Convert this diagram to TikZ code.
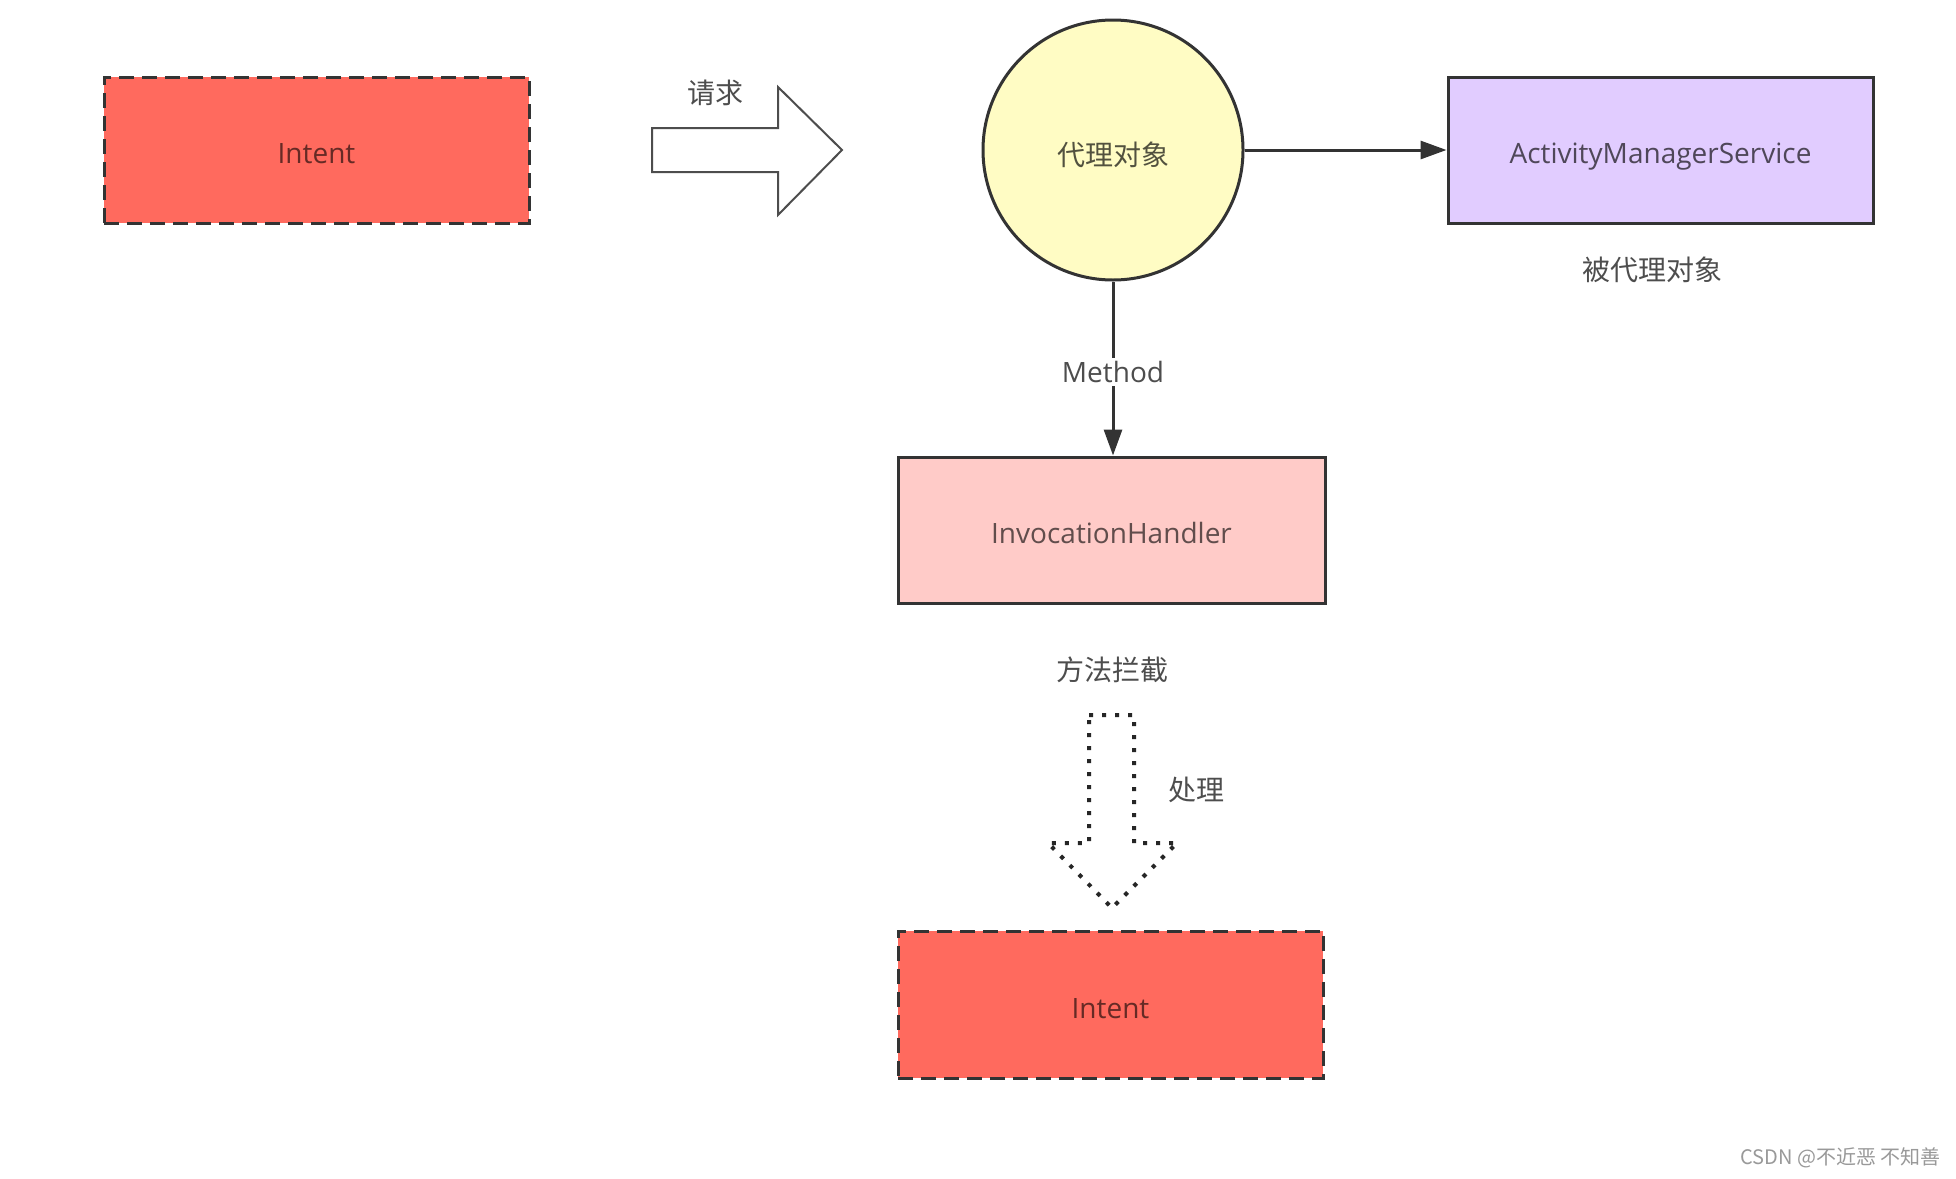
\documentclass[tikz,border=0pt]{standalone}
\usepackage{fontspec}
\setmainfont{Open Sans}
\newfontfamily\cjk{Noto Sans CJK SC}
\usetikzlibrary{arrows.meta}
\definecolor{intentred}{HTML}{FF6A5E}
\definecolor{proxyyellow}{HTML}{FFFCC4}
\definecolor{amspurple}{HTML}{E1CCFF}
\definecolor{ihpink}{HTML}{FFCBC8}
\definecolor{edge}{HTML}{333333}
\definecolor{labelgray}{HTML}{4D4D4D}
\begin{document}
\begin{tikzpicture}[x=1pt,y=-1pt,
  every node/.style={font=\fontsize{28}{33}\selectfont},
  boxbase/.style={rectangle, draw=edge, line width=3pt, minimum width=425pt, minimum height=146pt, inner sep=0pt, text height=27pt, text depth=0pt},
  intentbox/.style={boxbase, fill=intentred, dash pattern=on 15pt off 8pt, text=black!60!intentred},
  amsbox/.style={boxbase, fill=amspurple, text=black!65!amspurple},
  ihbox/.style={boxbase, fill=ihpink, text=black!62!ihpink},
  proxynode/.style={circle, draw=edge, line width=3pt, fill=proxyyellow, minimum size=260pt, inner sep=0pt, text=black!68!proxyyellow, text height=30pt, text depth=0pt},
  conn/.style={draw=edge, line width=3pt, -{Triangle[length=26pt,width=18pt]}},
  cjklabel/.style={text=labelgray, font=\cjk\fontsize{28}{33}\selectfont},
  bigarrow/.style={draw=labelgray, line width=2pt, fill=white, line join=miter},
  dotarrow/.style={draw=black!85, line width=4pt, dash pattern=on 4pt off 9pt, fill=white, line join=round}
]
\useasboundingbox (0,0) rectangle (1956,1178);
\fill[white] (0,0) rectangle (1956,1178);

% nodes
\node[intentbox] (intent1) at (316.5,150) {Intent};
\node[proxynode] (proxy) at (1113,150) {\cjk 代理对象};
\node[amsbox] (ams) at (1660.5,150) {ActivityManagerService};
\node[ihbox, minimum width=427pt] (ih) at (1111.5,530) {InvocationHandler};
\node[intentbox, minimum height=147pt] (intent2) at (1110.5,1004.5) {Intent};

% labels
\node[cjklabel] (reqlabel) at (715,93) {请求};
\node[cjklabel] (amslabel) at (1652,270) {被代理对象};
\node[cjklabel] (ihlabel) at (1112,670) {方法拦截};
\node[cjklabel] (proclabel) at (1196,790) {处理};

% connectors
\draw[conn] (proxy.east) -- (ams.west);
\draw[conn] (proxy.south) -- (proxy.south |- ih.north)
  node[pos=0.52, fill=white, text=labelgray, inner sep=3pt] (methodlabel) {Method};

% big hollow arrow (request)
\draw[bigarrow] (652,128) -- (778,128) -- (778,87) -- (842,150) -- (778,215)
  -- (778,172) -- (652,172) -- cycle;

% dotted hollow arrow (process)
\draw[dotarrow] (1089,715) -- (1134,715) -- (1134,843) -- (1177,843)
  -- (1112,908) -- (1048,843) -- (1089,843) -- cycle;

% watermark
\node[anchor=east, text=black!40, font=\cjk\fontsize{20}{24}\selectfont] (wm) at (1944,1158) {CSDN @不近恶 不知善};
\end{tikzpicture}
\end{document}
